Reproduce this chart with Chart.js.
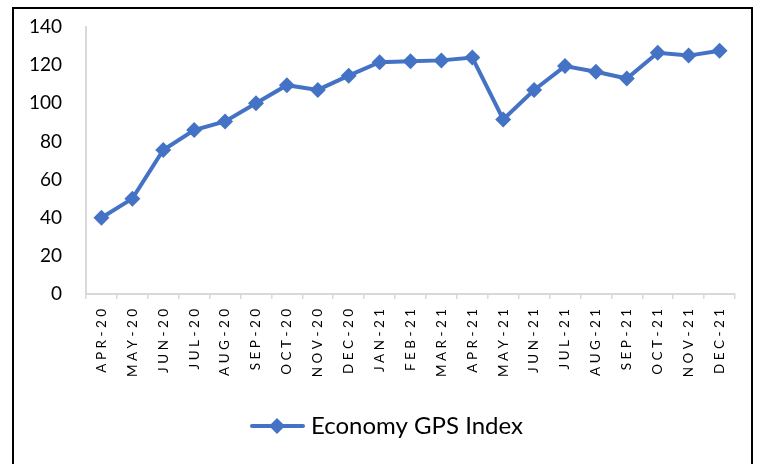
<!DOCTYPE html>
<html>
<head>
<meta charset="utf-8">
<script src="https://cdn.jsdelivr.net/npm/chart.js@4/dist/chart.umd.min.js"></script>
<style>
    html, body { margin: 0; padding: 0; background: #fff; overflow: hidden; }
    #wrap { position: relative; width: 759px; height: 464px; }
    #frame { position: absolute; left: 12px; top: 7px; width: 737px; height: 470px; border: 2px solid #000; }
    #myChart { position: absolute; left: 0; top: 0; }
</style>
</head>
<body>
<div id="wrap">
    <div id="frame"></div>
    <canvas id="myChart" width="759" height="464"></canvas>
</div>
<script>
// === データ ===
const months = ['APR-20', 'MAY-20', 'JUN-20', 'JUL-20', 'AUG-20', 'SEP-20', 'OCT-20', 'NOV-20', 'DEC-20',
                'JAN-21', 'FEB-21', 'MAR-21', 'APR-21', 'MAY-21', 'JUN-21', 'JUL-21', 'AUG-21', 'SEP-21',
                'OCT-21', 'NOV-21', 'DEC-21'];
const gpsIndex = [40, 50, 75.5, 86, 90.5, 100, 109.5, 107, 114.5, 121.5, 122, 122.5, 124,
                  91.5, 107, 119.5, 116.5, 113, 126.5, 125, 127.5];
const yTicks = [0, 20, 40, 60, 80, 100, 120, 140];

const lineColor = '#4472C4';
const axisColor = '#d9d9d9';
const fontFamily = 'Lato, "Open Sans", sans-serif';

// 凡例用: 線+ひし形のアイコン (左側に余白を入れて位置を調整)
const legendIcon = document.createElement('canvas');
legendIcon.width = 99;
legendIcon.height = 20;
(() => {
    const c = legendIcon.getContext('2d');
    c.strokeStyle = lineColor;
    c.lineWidth = 4;
    c.lineCap = 'round';
    c.beginPath();
    c.moveTo(46, 10);
    c.lineTo(97, 10);
    c.stroke();
    c.fillStyle = lineColor;
    c.beginPath();
    c.moveTo(71, 2);
    c.lineTo(79, 10);
    c.lineTo(71, 18);
    c.lineTo(63, 10);
    c.closePath();
    c.fill();
})();

const ctx = document.getElementById('myChart').getContext('2d');
new Chart(ctx, {
    type: 'line',
    data: {
        labels: months,
        datasets: [{
            label: 'Economy GPS Index',
            data: gpsIndex,
            borderColor: lineColor,
            backgroundColor: lineColor,
            borderWidth: 4,
            tension: 0,
            pointStyle: 'rectRot',
            pointRadius: 8,
            pointBackgroundColor: lineColor,
            pointBorderColor: lineColor,
            pointBorderWidth: 0
        }]
    },
    options: {
        responsive: false,
        animation: false,
        layout: {
            padding: { top: 27, right: 24, left: 0, bottom: 16 }
        },
        plugins: {
            tooltip: { enabled: false },
            legend: {
                display: true,
                position: 'bottom',
                labels: {
                    usePointStyle: true,
                    pointStyle: legendIcon,
                    pointStyleWidth: 87,
                    boxHeight: 20,
                    padding: 10,
                    color: '#000',
                    font: { family: fontFamily, size: 24 }
                }
            }
        },
        scales: {
            x: {
                offset: true,
                grid: {
                    offset: true,
                    drawOnChartArea: false,
                    drawTicks: true,
                    tickLength: 5,
                    color: axisColor,
                    lineWidth: 1.5
                },
                border: { display: true, color: axisColor, width: 2 },
                ticks: {
                    color: '#000',
                    autoSkip: false,
                    minRotation: 90,
                    maxRotation: 90,
                    padding: 10,
                    font: { family: fontFamily, size: 13.5 },
                    callback: function(value) {
                        return this.getLabelForValue(value).split('').join(' ');
                    }
                },
                afterFit: (scale) => {
                    scale.height = 110;
                    scale.paddingTop = 0;
                    scale.paddingBottom = 0;
                }
            },
            y: {
                min: 0,
                max: 140,
                afterBuildTicks: (scale) => { scale.ticks = yTicks.map(v => ({ value: v })); },
                grid: { drawOnChartArea: false, drawTicks: false },
                border: { display: true, color: axisColor, width: 2 },
                ticks: {
                    color: '#000',
                    padding: 24,
                    font: { family: fontFamily, size: 19 }
                },
                afterFit: (scale) => {
                    scale.width = 86;
                    scale.paddingTop = 0;
                    scale.paddingBottom = 0;
                }
            }
        }
    }
});
</script>
</body>
</html>
